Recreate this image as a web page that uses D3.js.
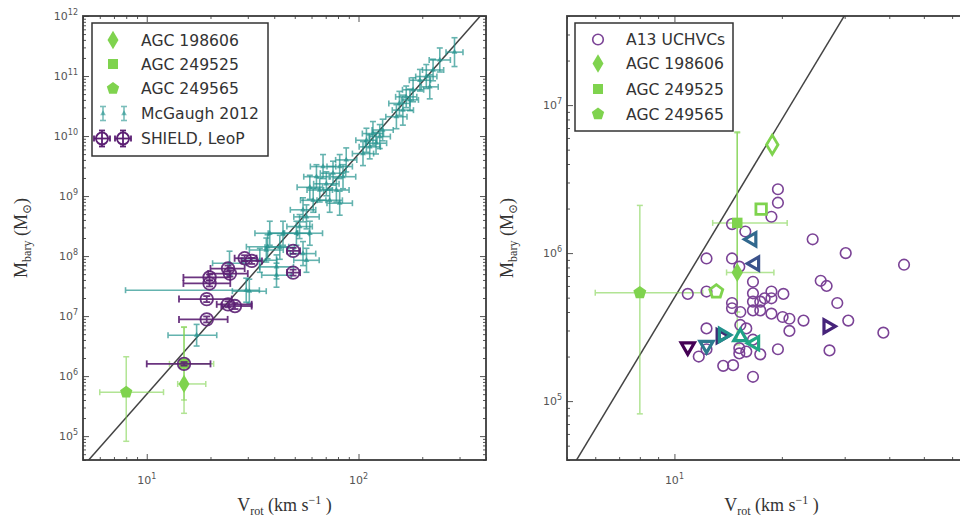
<!DOCTYPE html>
<html>
<head>
<meta charset="utf-8">
<script src="https://cdn.jsdelivr.net/npm/d3@7"></script>
<style>
body { margin: 0; background: #fff; }
svg { display: block; }
</style>
</head>
<body>
<script>
let width = 960
let height = 520

// McGaugh 2012 gas-rich galaxies: [Vrot, Mbary, dex err low in V, dex err high in V, dex err in M]
const mcgaugh = [
  [284, 2.5e11, 0.04, 0.04, 0.24], [242, 1.85e11, 0.05, 0.05, 0.2], [225, 1.26e11, 0.05, 0.05, 0.18],
  [209, 9.8e10, 0.05, 0.05, 0.2], [217, 6.6e10, 0.04, 0.04, 0.2], [195, 8.5e10, 0.05, 0.05, 0.18],
  [181, 5.9e10, 0.05, 0.05, 0.2], [168, 4.5e10, 0.05, 0.05, 0.18], [156, 3.5e10, 0.05, 0.05, 0.2],
  [162, 2.7e10, 0.05, 0.05, 0.25], [175, 4.0e10, 0.04, 0.04, 0.18], [151, 2.1e10, 0.05, 0.05, 0.2],
  [130, 1.26e10, 0.05, 0.05, 0.18], [126, 9.8e9, 0.05, 0.05, 0.2], [117, 1.1e10, 0.05, 0.05, 0.2],
  [121, 7.6e9, 0.05, 0.05, 0.18], [113, 6.6e9, 0.05, 0.05, 0.2], [109, 8.5e9, 0.05, 0.05, 0.2],
  [105, 5.1e9, 0.05, 0.05, 0.2], [87.5, 4.0e9, 0.05, 0.05, 0.2], [81.5, 3.1e9, 0.06, 0.06, 0.2],
  [84.5, 2.1e9, 0.06, 0.06, 0.2], [75.8, 2.4e9, 0.06, 0.06, 0.2], [78.6, 1.26e9, 0.06, 0.06, 0.2],
  [70.5, 1.6e9, 0.06, 0.06, 0.2], [68, 3.1e9, 0.06, 0.06, 0.2], [63.3, 2.1e9, 0.06, 0.06, 0.2],
  [65.6, 1.26e9, 0.06, 0.06, 0.2], [73.1, 8.5e8, 0.06, 0.06, 0.2], [81.5, 7.6e8, 0.06, 0.06, 0.2],
  [58.9, 1.4e9, 0.06, 0.06, 0.2], [61.1, 8.5e8, 0.06, 0.06, 0.2], [54.7, 5.9e8, 0.06, 0.06, 0.2],
  [56.8, 4.5e8, 0.06, 0.06, 0.2], [52.7, 3.1e8, 0.06, 0.06, 0.2], [50.9, 2.4e8, 0.06, 0.06, 0.2],
  [58.9, 2.4e8, 0.06, 0.06, 0.2], [44, 2.4e8, 0.07, 0.07, 0.2], [38.1, 2.4e8, 0.07, 0.07, 0.2],
  [42.5, 1.4e8, 0.07, 0.07, 0.2], [36.7, 1.26e8, 0.08, 0.08, 0.2], [54.7, 1.1e8, 0.06, 0.06, 0.2],
  [56.8, 8.5e7, 0.06, 0.06, 0.2], [34.2, 8.5e7, 0.08, 0.08, 0.2], [41, 6.6e7, 0.08, 0.08, 0.2],
  [41, 4.8e7, 0.07, 0.07, 0.2], [37.2, 1.43e8, 0.1, 0.1, 0.2], [29.5, 2.7e7, 0.57, 0.062, 0.2],
  [30.5, 2.6e7, 0.08, 0.08, 0.2], [24.6, 7.6e7, 0.08, 0.08, 0.2], [17.2, 4.8e6, 0.135, 0.095, 0.18]
]

// SHIELD galaxies and Leo P: [Vrot, Mbary, V low, V high, dex err in M]
const shield = [
  [15, 1.6e6, 10, 20, 0.03], [19.2, 8.8e6, 14.2, 24.1, 0.05], [19.2, 1.92e7, 14.2, 25.2, 0.05],
  [24.2, 1.57e7, 21.4, 31.3, 0.05], [26.1, 1.47e7, 22.5, 31.3, 0.05], [19.8, 4.4e7, 14.9, 24.8, 0.05],
  [19.8, 3.5e7, 14.9, 24.8, 0.05], [24.7, 5.1e7, 19.5, 30, 0.05], [24.2, 6.2e7, 20, 29, 0.05],
  [29, 9.2e7, 26, 33, 0.05], [31.3, 8.3e7, 28, 35, 0.05], [49.1, 1.22e8, 46, 53, 0.05],
  [49.1, 5.3e7, 46, 53, 0.05]
]

// AGC candidates
const agcNames = ['AGC 198606', 'AGC 249525', 'AGC 249565']
const agcSymbols = ['diamond', 'square', 'pentagon']
const agcV = [15, 15, 8]
const agcM = [7.4e5, 1.6e6, 5.4e5]
const agcVRange = [[14, 19], [12.8, 20.7], [6, 12]]
const agcMRange = [[2.4e5, 6.6e6], [4e5, 6.5e6], [8.2e4, 2.1e6]]
// open markers in right panel (same order as agcNames)
const agcOpenV = [18.8, 17.5, 13.1]
const agcOpenM = [5.4e6, 1.98e6, 5.5e5]

// A13 UCHVCs: [Vrot, Mbary]
const uchvc = [
  [19.5, 2.7e6], [19.5, 2.19e6], [18.7, 1.76e6], [14.5, 1.57e6], [15.8, 1.4e6], [24.4, 1.24e6],
  [30.2, 1.0e6], [44.0, 8.35e5], [12.3, 9.2e5], [14.5, 9.2e5], [15.2, 8.1e5], [16.6, 6.4e5],
  [25.7, 6.5e5], [26.7, 6.0e5], [10.9, 5.3e5], [12.3, 5.5e5], [16.6, 5.35e5], [18.7, 5.5e5],
  [20.2, 5.3e5], [14.5, 4.6e5], [14.5, 4.24e5], [15.3, 4.0e5], [16.6, 4.7e5], [16.6, 4.1e5],
  [17.4, 4.7e5], [17.4, 4.1e5], [17.9, 4.95e5], [18.7, 4.95e5], [18.7, 3.9e5], [20.1, 3.7e5],
  [21.0, 3.6e5], [21.0, 2.98e5], [23.0, 3.5e5], [28.6, 4.6e5], [30.7, 3.5e5], [38.5, 2.9e5],
  [27.2, 2.2e5], [19.5, 2.24e5], [12.3, 3.1e5], [12.3, 2.24e5], [11.7, 2.0e5], [13.7, 1.73e5],
  [14.6, 1.75e5], [15.2, 2.28e5], [15.2, 2.1e5], [15.9, 2.16e5], [15.9, 3.1e5], [15.3, 3.27e5],
  [17.4, 2.07e5], [16.6, 1.46e5], [16.6, 2.6e5]
]

// triangles (no legend entry): [Vrot, Mbary, direction, colour]
const triangles = [
  [10.9, 2.33e5, 'down', '#440154'], [12.3, 2.39e5, 'down', '#2c7a8e'], [13.5, 2.75e5, 'right', '#3e2a73'],
  [13.7, 2.8e5, 'right', '#21918c'], [15.3, 2.72e5, 'up', '#1fa187'], [16.8, 2.46e5, 'left', '#22a884'],
  [26.9, 3.2e5, 'right', '#46237a'], [16.5, 1.24e6, 'left', '#31688e'], [16.8, 8.5e5, 'left', '#3b528b']
]

const btfrA = 50 // M = A * V^4

const green = '#7fd34e'
const teal = '#23938e'
const purple = '#5b1f73'
const uchvcColor = '#7b4396'

const svg = d3.select('body')
  .append('svg')
  .attr('width', width)
  .attr('height', height)

// custom marker shapes
const pentagon = {
  draw(ctx, size) {
    const r = Math.sqrt(size / 2.378)
    for (let i = 0; i < 5; i++) {
      const a = -Math.PI / 2 + i * 2 * Math.PI / 5
      if (i === 0) ctx.moveTo(r * Math.cos(a), r * Math.sin(a))
      else ctx.lineTo(r * Math.cos(a), r * Math.sin(a))
    }
    ctx.closePath()
  }
}
const thinDiamond = {
  draw(ctx, size) {
    const h = Math.sqrt(size / 1.2)
    const w = h * 0.6
    ctx.moveTo(0, -h); ctx.lineTo(w, 0); ctx.lineTo(0, h); ctx.lineTo(-w, 0); ctx.closePath()
  }
}
const square = {
  draw(ctx, size) {
    const s = Math.sqrt(size) / 2
    ctx.rect(-s, -s, 2 * s, 2 * s)
  }
}
const shapeOf = { diamond: thinDiamond, square: square, pentagon: pentagon }
const rot = { up: 0, right: 90, down: 180, left: 270 }

function decades(lo, hi) {
  const out = []
  for (let e = Math.ceil(Math.log10(lo) - 1e-9); e <= Math.floor(Math.log10(hi) + 1e-9); e++) out.push(Math.pow(10, e))
  return out
}
function minors(lo, hi) {
  const out = []
  for (let e = Math.floor(Math.log10(lo)); e <= Math.ceil(Math.log10(hi)); e++)
    for (let k = 2; k < 10; k++) {
      const v = k * Math.pow(10, e)
      if (v >= lo * 0.999 && v <= hi * 1.001) out.push(v)
    }
  return out
}

function powLabel(sel, v) {
  sel.append('tspan').text('10')
  sel.append('tspan').attr('dy', -5).attr('font-size', 8).text(Math.round(Math.log10(v)))
}

function makePanel(id, xr, yr, xd, yd, labelX) {
  const x = d3.scaleLog().domain(xd).range(xr)
  const y = d3.scaleLog().domain(yd).range(yr)
  const g = svg.append('g')

  svg.append('clipPath').attr('id', id)
    .append('rect').attr('x', xr[0]).attr('y', yr[1]).attr('width', xr[1] - xr[0]).attr('height', yr[0] - yr[1])

  const plot = g.append('g').attr('clip-path', `url(#${id})`)

  const axes = g.append('g')
  const xMaj = decades(xd[0], xd[1]), xMin = minors(xd[0], xd[1])
  const yMaj = decades(yd[0], yd[1]), yMin = minors(yd[0], yd[1])
  const addAxis = (axis, tx, ty, vals, size) => {
    const a = axes.append('g').attr('transform', `translate(${tx},${ty})`)
      .call(axis.tickValues(vals).tickSize(-size).tickFormat(''))
    a.select('.domain').remove()
    a.selectAll('line').attr('stroke', '#555').attr('stroke-width', 1)
  }
  addAxis(d3.axisBottom(x), 0, yr[0], xMaj, 6)
  addAxis(d3.axisBottom(x), 0, yr[0], xMin, 3)
  addAxis(d3.axisTop(x), 0, yr[1], xMaj, 6)
  addAxis(d3.axisTop(x), 0, yr[1], xMin, 3)
  addAxis(d3.axisLeft(y), xr[0], 0, yMaj, 6)
  addAxis(d3.axisLeft(y), xr[0], 0, yMin, 3)
  addAxis(d3.axisRight(y), xr[1], 0, yMaj, 6)
  addAxis(d3.axisRight(y), xr[1], 0, yMin, 3)

  axes.append('rect')
    .attr('x', xr[0]).attr('y', yr[1]).attr('width', xr[1] - xr[0]).attr('height', yr[0] - yr[1])
    .attr('fill', 'none').attr('stroke', '#3a3a3a').attr('stroke-width', 1.8)

  const tickFont = 'DejaVu Sans, sans-serif'
  xMaj.forEach(v => {
    g.append('text').attr('x', x(v)).attr('y', yr[0] + 24).attr('text-anchor', 'middle')
      .attr('font-family', tickFont).attr('font-size', 11).attr('fill', '#555')
      .call(powLabel, v)
  })
  yMaj.forEach(v => {
    g.append('text').attr('x', xr[0] - 5).attr('y', y(v) + 4).attr('text-anchor', 'end')
      .attr('font-family', tickFont).attr('font-size', 11).attr('fill', '#555')
      .call(powLabel, v)
  })

  // axis titles
  const serif = 'Liberation Serif, DejaVu Serif, serif'
  const xt = g.append('text').attr('x', (xr[0] + xr[1]) / 2).attr('y', 511)
    .attr('text-anchor', 'middle').attr('font-family', serif).attr('font-size', 18).attr('fill', '#333')
  xt.append('tspan').text('V')
  xt.append('tspan').attr('dy', 4).attr('font-size', 12).text('rot')
  xt.append('tspan').attr('dy', -4).text(' (km s')
  xt.append('tspan').attr('dy', -7).attr('font-size', 12).text('\u22121')
  xt.append('tspan').attr('dy', 7).text(' )')

  const yt = g.append('text').attr('transform', `translate(${labelX},${(yr[0] + yr[1]) / 2}) rotate(-90)`)
    .attr('text-anchor', 'middle').attr('font-family', serif).attr('font-size', 18).attr('fill', '#333')
  yt.append('tspan').text('M')
  yt.append('tspan').attr('dy', 4).attr('font-size', 12).text('bary')
  yt.append('tspan').attr('dy', -4).text(' (M')
  yt.append('tspan').attr('dy', 4).attr('font-size', 12).text('\u2299')
  yt.append('tspan').attr('dy', -4).text(')')

  return { plot, x, y, g }
}

function errorBar(g, x, y, vx, vy, xlo, xhi, ylo, yhi, color, width, cap, opacity) {
  const eg = g.append('g').attr('stroke', color).attr('stroke-width', width).attr('opacity', opacity)
  if (xlo != null) {
    eg.append('line').attr('x1', x(xlo)).attr('x2', x(xhi)).attr('y1', y(vy)).attr('y2', y(vy))
    ;[xlo, xhi].forEach(v => eg.append('line').attr('x1', x(v)).attr('x2', x(v)).attr('y1', y(vy) - cap).attr('y2', y(vy) + cap))
  }
  if (ylo != null) {
    eg.append('line').attr('x1', x(vx)).attr('x2', x(vx)).attr('y1', y(ylo)).attr('y2', y(yhi))
    ;[ylo, yhi].forEach(v => eg.append('line').attr('x1', x(vx) - cap).attr('x2', x(vx) + cap).attr('y1', y(v)).attr('y2', y(v)))
  }
}

function btfr(plot, x, y) {
  const vs = x.domain()
  const line = d3.line().x(d => x(d)).y(d => y(btfrA * Math.pow(d, 4)))
  plot.append('path').attr('d', line([vs[0] * 0.9, vs[1] * 1.1]))
    .attr('fill', 'none').attr('stroke', '#222').attr('stroke-width', 1.5).attr('opacity', 0.85)
}

// ---------------- left panel ----------------
const L = makePanel('clipL', [83, 486], [460, 16], [5, 400], [4e4, 1e12], 27)

btfr(L.plot, L.x, L.y)

mcgaugh.forEach(d => {
  const [v, m, dlo, dhi, dm] = d
  errorBar(L.plot, L.x, L.y, v, m, v / Math.pow(10, dlo), v * Math.pow(10, dhi),
    m / Math.pow(10, dm), m * Math.pow(10, dm), teal, 1.6, 3, 0.7)
  L.plot.append('path').attr('transform', `translate(${L.x(v)},${L.y(m)})`)
    .attr('d', d3.symbol(d3.symbolTriangle, 14)()).attr('fill', teal).attr('opacity', 0.7)
})

agcNames.forEach((n, i) => {
  errorBar(L.plot, L.x, L.y, agcV[i], agcM[i], agcVRange[i][0], agcVRange[i][1],
    agcMRange[i][0], agcMRange[i][1], green, 1.5, 3, 0.6)
})
agcNames.forEach((n, i) => {
  L.plot.append('path').attr('transform', `translate(${L.x(agcV[i])},${L.y(agcM[i])})`)
    .attr('d', d3.symbol(shapeOf[agcSymbols[i]], 100)()).attr('fill', green)
})

shield.forEach(d => {
  const [v, m, lo, hi, dm] = d
  errorBar(L.plot, L.x, L.y, v, m, lo, hi, m / Math.pow(10, dm), m * Math.pow(10, dm), purple, 1.8, 3.5, 0.9)
  L.plot.append('circle').attr('cx', L.x(v)).attr('cy', L.y(m)).attr('r', 6.3)
    .attr('fill', 'none').attr('stroke', purple).attr('stroke-width', 1.8).attr('opacity', 0.9)
})

// legend left
const legL = svg.append('g')
legL.append('rect').attr('x', 92).attr('y', 23).attr('width', 176).attr('height', 133)
  .attr('fill', '#fff').attr('stroke', '#333').attr('stroke-width', 1.5)
const legRowsL = [40, 64, 88.5, 113.5, 138.5]
agcNames.forEach((n, i) => {
  legL.append('path').attr('transform', `translate(113,${legRowsL[i]})`)
    .attr('d', d3.symbol(shapeOf[agcSymbols[i]], 100)()).attr('fill', green)
})
;[103, 124].forEach(cx => {
  const r = legRowsL[3]
  const eg = legL.append('g').attr('stroke', teal).attr('stroke-width', 1.6).attr('opacity', 0.6)
  eg.append('line').attr('x1', cx).attr('x2', cx).attr('y1', r - 7).attr('y2', r + 7)
  eg.append('line').attr('x1', cx - 3).attr('x2', cx + 3).attr('y1', r - 7).attr('y2', r - 7)
  eg.append('line').attr('x1', cx - 3).attr('x2', cx + 3).attr('y1', r + 7).attr('y2', r + 7)
  legL.append('path').attr('transform', `translate(${cx},${r})`)
    .attr('d', d3.symbol(d3.symbolTriangle, 14)()).attr('fill', teal).attr('opacity', 0.6)
})
;[102, 123].forEach(cx => {
  const r = legRowsL[4]
  const eg = legL.append('g').attr('stroke', purple).attr('stroke-width', 1.8)
  eg.append('line').attr('x1', cx - 8).attr('x2', cx + 8).attr('y1', r).attr('y2', r)
  eg.append('line').attr('x1', cx).attr('x2', cx).attr('y1', r - 8).attr('y2', r + 8)
  eg.append('line').attr('x1', cx - 3).attr('x2', cx + 3).attr('y1', r - 8).attr('y2', r - 8)
  eg.append('line').attr('x1', cx - 3).attr('x2', cx + 3).attr('y1', r + 8).attr('y2', r + 8)
  eg.append('line').attr('x1', cx - 8).attr('x2', cx - 8).attr('y1', r - 3).attr('y2', r + 3)
  eg.append('line').attr('x1', cx + 8).attr('x2', cx + 8).attr('y1', r - 3).attr('y2', r + 3)
  legL.append('circle').attr('cx', cx).attr('cy', r).attr('r', 6)
    .attr('fill', 'none').attr('stroke', purple).attr('stroke-width', 1.8)
})
const legTextL = agcNames.concat(['McGaugh 2012', 'SHIELD, LeoP'])
legTextL.forEach((t, i) => {
  legL.append('text').attr('x', 141).attr('y', legRowsL[i] + 5.5)
    .attr('font-family', 'DejaVu Sans, sans-serif').attr('font-size', 15.6).attr('fill', '#333').text(t)
})

// ---------------- right panel ----------------
const R = makePanel('clipR', [567, 976], [460, 16], [5, 70], [4e4, 4e7], 513)

btfr(R.plot, R.x, R.y)

agcNames.forEach((n, i) => {
  errorBar(R.plot, R.x, R.y, agcV[i], agcM[i], agcVRange[i][0], agcVRange[i][1],
    agcMRange[i][0], agcMRange[i][1], green, 1.5, 3, 0.6)
})

uchvc.forEach(d => {
  R.plot.append('circle').attr('cx', R.x(d[0])).attr('cy', R.y(d[1])).attr('r', 5.3)
    .attr('fill', 'none').attr('stroke', uchvcColor).attr('stroke-width', 1.6)
})

triangles.forEach(d => {
  R.plot.append('path').attr('transform', `translate(${R.x(d[0])},${R.y(d[1])}) rotate(${rot[d[2]]})`)
    .attr('d', d3.symbol(d3.symbolTriangle, 75)()).attr('fill', 'none')
    .attr('stroke', d[3]).attr('stroke-width', 3.2)
})

agcNames.forEach((n, i) => {
  R.plot.append('path').attr('transform', `translate(${R.x(agcV[i])},${R.y(agcM[i])})`)
    .attr('d', d3.symbol(shapeOf[agcSymbols[i]], 110)()).attr('fill', green)
  R.plot.append('path').attr('transform', `translate(${R.x(agcOpenV[i])},${R.y(agcOpenM[i])})`)
    .attr('d', d3.symbol(shapeOf[agcSymbols[i]], 110)()).attr('fill', 'none')
    .attr('stroke', green).attr('stroke-width', 2.8)
})

// legend right
const legR = svg.append('g')
legR.append('rect').attr('x', 575).attr('y', 23).attr('width', 158).attr('height', 108)
  .attr('fill', '#fff').attr('stroke', '#333').attr('stroke-width', 1.5)
const legRowsR = [39.5, 63.5, 89, 114]
legR.append('circle').attr('cx', 598).attr('cy', legRowsR[0]).attr('r', 5.3)
  .attr('fill', 'none').attr('stroke', uchvcColor).attr('stroke-width', 1.6)
agcNames.forEach((n, i) => {
  legR.append('path').attr('transform', `translate(598,${legRowsR[i + 1]})`)
    .attr('d', d3.symbol(shapeOf[agcSymbols[i]], 100)()).attr('fill', green)
})
;['A13 UCHVCs'].concat(agcNames).forEach((t, i) => {
  legR.append('text').attr('x', 626).attr('y', legRowsR[i] + 5.5)
    .attr('font-family', 'DejaVu Sans, sans-serif').attr('font-size', 15.6).attr('fill', '#333').text(t)
})
</script>
</body>
</html>
